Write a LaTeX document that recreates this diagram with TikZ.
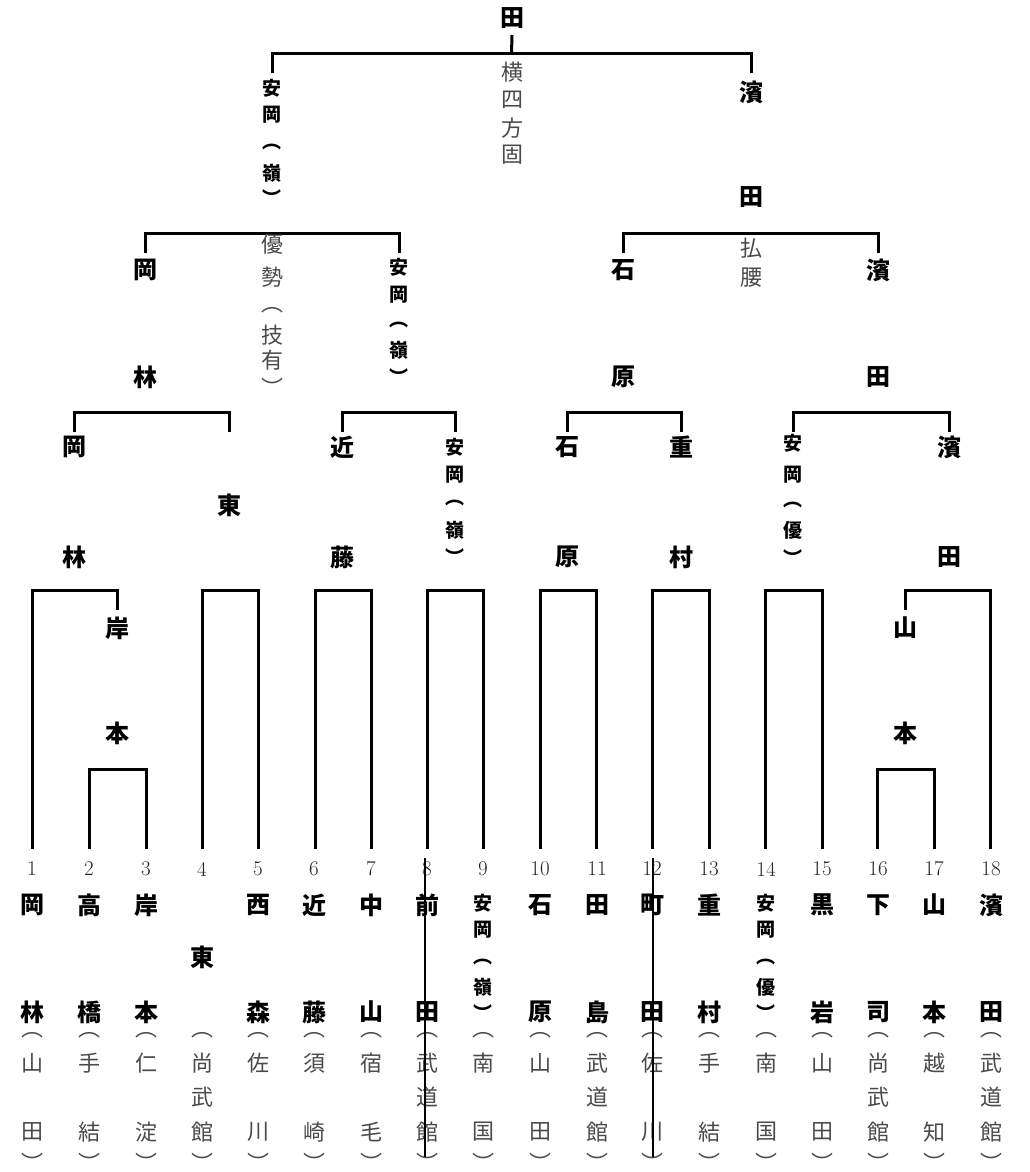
\documentclass[tikz,border=0pt]{standalone}
\usepackage{fontspec}
\newfontfamily\cjk{Noto Sans CJK JP}
\definecolor{gtext}{HTML}{4A4A4A}
\definecolor{ntext}{HTML}{262626}
\newcommand\vt[4][]{\foreach \c/\yy [count=\i] in {#4} {\node[#1] (#2-\i) at (#3,\yy) {\c};}}
\newcommand\bk[6]{%
  \coordinate (#1-l) at (#2,#5);
  \coordinate (#1-r) at (#3,#6);
  \coordinate (#1-t) at ({(#2+#3)/2},#4);
  \draw[bl] (#1-l) |- (#1-t) -| (#1-r);}
\begin{document}
\begin{tikzpicture}[x=1pt,y=-1pt,
  nm/.style={font={\cjk\bfseries\fontsize{24}{24}\selectfont},inner sep=0pt},
  sm/.style={font={\cjk\bfseries\fontsize{19}{19}\selectfont},inner sep=0pt},
  gr/.style={font={\cjk\fontsize{22}{22}\selectfont},text=gtext,inner sep=0pt},
  num/.style={font={\fontsize{21}{21}\selectfont},text=ntext,inner sep=0pt},
  bl/.style={line width=3pt},
  thinln/.style={line width=2pt}]
\fill[white] (0,0) rectangle (1029,1172);
\useasboundingbox (0,0) rectangle (1029,1172);

% ---------- final ----------
\vt[nm]{w}{512}{田/18}
\coordinate (fs) at (512,35);
\bk{fb}{272}{751}{54}{73}{73}
\draw[bl] (fs) -- (fb-t);
\vt[gr]{tf}{512}{横/72,四/100,方/128,固/155}
\vt[sm]{f1}{272}{安/88,岡/115,︵/147,嶺/173,︶/198}
\vt[nm]{f2}{751}{濱/92,田/197}

% ---------- semifinal ----------
\bk{sa}{145}{399}{233}{253}{253}
\bk{sb}{623}{878}{233}{253}{253}
\vt[nm]{s1}{145}{岡/270,林/377}
\vt[sm]{s2}{399}{安/267,岡/295,︵/325,嶺/350,︶/377}
\vt[gr]{t1}{272}{優/244,勢/277,︵/310,技/335,有/360,︶/387}
\vt[nm]{s3}{623}{石/270,原/377}
\vt[nm]{s4}{878}{濱/270,田/377}
\vt[gr]{t2}{751}{払/248,腰/278}

% ---------- quarterfinal ----------
\bk{qa}{74}{229}{412}{432}{432}
\bk{qb}{342}{455}{412}{432}{432}
\bk{qc}{567}{681}{412}{432}{432}
\bk{qd}{793}{949}{412}{432}{432}
\vt[nm]{q1}{74}{岡/447,林/557}
\vt[nm]{q2}{229}{東/505}
\vt[nm]{q3}{342}{近/447,藤/557}
\vt[sm]{q4}{455}{安/447,岡/475,︵/503,嶺/530,︶/557}
\vt[nm]{q5}{567}{石/447,原/557}
\vt[nm]{q6}{681}{重/447,村/557}
\vt[sm]{q7}{793}{安/443,岡/475,︵/505,優/530,︶/558}
\vt[nm]{q8}{949}{濱/447,田/557}

% ---------- first round ----------
\bk{ra}{32}{117}{590}{849}{610}
\bk{rb}{89}{146}{769}{849}{849}
\bk{rc}{202}{258}{590}{849}{849}
\bk{rd}{315}{371}{590}{849}{849}
\bk{re}{427}{483}{590}{849}{849}
\bk{rf}{540}{596}{590}{849}{849}
\bk{rg}{652}{709}{590}{849}{849}
\bk{rh}{765}{822}{590}{849}{849}
\bk{ri}{905}{990}{590}{610}{849}
\bk{rj}{877}{934}{769}{849}{849}
\vt[nm]{r1}{117}{岸/628,本/733}
\vt[nm]{r2}{905}{山/628,本/733}

% ---------- entry numbers ----------
\foreach \x [count=\i] in {32,89,146,202,258,314,371,427,483,540,597,652,709,766,822,878,934,991}
  {\node[num] (k\i) at (\x,869) {\i};}

% ---------- players ----------
\vt[nm]{p1}{32}{岡/905,林/1012}
\vt[nm]{p2}{89}{高/905,橋/1012}
\vt[nm]{p3}{146}{岸/905,本/1012}
\vt[nm]{p4}{202}{東/957}
\vt[nm]{p5}{258}{西/905,森/1012}
\vt[nm]{p6}{314}{近/905,藤/1012}
\vt[nm]{p7}{371}{中/905,山/1012}
\vt[nm]{p8}{427}{前/905,田/1012}
\vt[sm]{p9}{483}{安/903,岡/930,︵/962,嶺/987,︶/1013}
\vt[nm]{p10}{540}{石/905,原/1012}
\vt[nm]{p11}{597}{田/905,島/1012}
\vt[nm]{p12}{652}{町/905,田/1012}
\vt[nm]{p13}{709}{重/905,村/1012}
\vt[sm]{p14}{766}{安/903,岡/930,︵/962,優/987,︶/1013}
\vt[nm]{p15}{822}{黒/905,岩/1012}
\vt[nm]{p16}{878}{下/905,司/1012}
\vt[nm]{p17}{934}{山/905,本/1012}
\vt[nm]{p18}{991}{濱/905,田/1012}

% ---------- affiliations ----------
\vt[gr]{a1}{32}{︵/1035,山/1063,田/1132,︶/1162}
\vt[gr]{a2}{89}{︵/1035,手/1063,結/1132,︶/1162}
\vt[gr]{a3}{146}{︵/1035,仁/1063,淀/1132,︶/1162}
\vt[gr]{a4}{202}{︵/1035,尚/1063,武/1097,館/1132,︶/1162}
\vt[gr]{a5}{258}{︵/1035,佐/1063,川/1132,︶/1162}
\vt[gr]{a6}{314}{︵/1035,須/1063,崎/1132,︶/1162}
\vt[gr]{a7}{371}{︵/1035,宿/1063,毛/1132,︶/1162}
\vt[gr]{a8}{427}{︵/1035,武/1063,道/1097,館/1132,︶/1162}
\vt[gr]{a9}{483}{︵/1035,南/1063,国/1132,︶/1162}
\vt[gr]{a10}{540}{︵/1035,山/1063,田/1132,︶/1162}
\vt[gr]{a11}{597}{︵/1035,武/1063,道/1097,館/1132,︶/1162}
\vt[gr]{a12}{652}{︵/1035,佐/1063,川/1132,︶/1162}
\vt[gr]{a13}{709}{︵/1035,手/1063,結/1132,︶/1162}
\vt[gr]{a14}{766}{︵/1035,南/1063,国/1132,︶/1162}
\vt[gr]{a15}{822}{︵/1035,山/1063,田/1132,︶/1162}
\vt[gr]{a16}{878}{︵/1035,尚/1063,武/1097,館/1132,︶/1162}
\vt[gr]{a17}{934}{︵/1035,越/1063,知/1132,︶/1162}
\vt[gr]{a18}{991}{︵/1035,武/1063,道/1097,館/1132,︶/1162}

% ---------- stray vertical rules ----------
\coordinate (v8a) at (425,858);
\coordinate (v8b) at (425,1157);
\coordinate (v12a) at (653,858);
\coordinate (v12b) at (653,1157);
\draw[thinln] (v8a) -- (v8b);
\draw[thinln] (v12a) -- (v12b);
\end{tikzpicture}
\end{document}
